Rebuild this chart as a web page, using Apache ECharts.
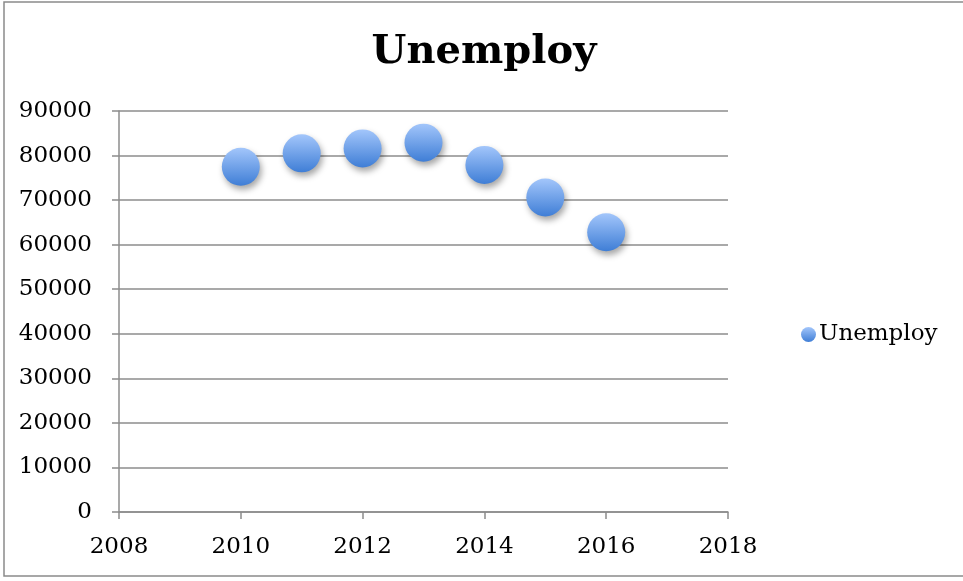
<!DOCTYPE html>
<html>
<head>
<meta charset="utf-8">
<script src="https://cdn.jsdelivr.net/npm/echarts@6/dist/echarts.min.js"></script>
<style>
  html, body { margin: 0; padding: 0; background: #fff; }
  #chart { width: 963px; height: 581px; }
</style>
</head>
<body>
<div id="chart"></div>
<script>
// Unemployment counts by year
const years = [2010, 2011, 2012, 2013, 2014, 2015, 2016];
const unemploy = [77500, 80500, 81600, 82900, 77900, 70600, 62800];
const seriesName = 'Unemploy';

const fontFam = '"DejaVu Serif", "Liberation Serif", serif';
const gridColor = '#8c8c8c';

const bubbleFill = new echarts.graphic.LinearGradient(0, 0, 0, 1, [
  { offset: 0, color: '#a3c6fb' },
  { offset: 1, color: '#3f7ed6' }
]);

const chart = echarts.init(document.getElementById('chart'), null, { renderer: 'canvas' });

chart.setOption({
  animation: false,
  backgroundColor: '#ffffff',
  graphic: [{
    type: 'rect',
    shape: { x: 4, y: 2, width: 975, height: 574 },
    style: { fill: 'none', stroke: '#8a8a8a', lineWidth: 1.5 },
    silent: true
  }],
  title: {
    text: 'Unemploy',
    left: 479,
    textAlign: 'center',
    top: 28,
    textStyle: { fontFamily: fontFam, fontWeight: 'bold', fontSize: 40, color: '#000' }
  },
  legend: {
    left: 796,
    top: 318,
    itemWidth: 15,
    itemHeight: 15,
    itemGap: 6,
    icon: 'circle',
    data: [{ name: seriesName, itemStyle: { color: bubbleFill } }],
    textStyle: { fontFamily: fontFam, fontSize: 23, color: '#000', padding: [0, 0, 0, -2] }
  },
  grid: { left: 119, right: 235, top: 111, bottom: 69 },
  xAxis: {
    type: 'value',
    min: 2008,
    max: 2018,
    interval: 2,
    axisLine: { show: true, lineStyle: { color: gridColor, width: 1.5 } },
    axisTick: { show: true, inside: false, length: 7, lineStyle: { color: gridColor, width: 1.5 } },
    splitLine: { show: false },
    axisLabel: {
      margin: 24, fontFamily: fontFam, fontSize: 23, color: '#000',
      formatter: v => String(v)
    }
  },
  yAxis: {
    type: 'value',
    min: 0,
    max: 90000,
    interval: 10000,
    axisLine: { show: true, lineStyle: { color: gridColor, width: 1.5 } },
    axisTick: { show: true, inside: false, length: 7, lineStyle: { color: gridColor, width: 1.5 } },
    splitLine: { show: true, lineStyle: { color: gridColor, width: 1.5 } },
    axisLabel: {
      margin: 27, fontFamily: fontFam, fontSize: 23, color: '#000',
      formatter: v => String(v)
    }
  },
  series: [{
    name: seriesName,
    type: 'scatter',
    symbol: 'circle',
    symbolSize: 38,
    data: years.map((y, i) => [y, unemploy[i]]),
    itemStyle: {
      color: bubbleFill,
      opacity: 1,
      shadowColor: 'rgba(0,0,0,0.35)',
      shadowBlur: 6,
      shadowOffsetX: 2,
      shadowOffsetY: 4
    }
  }]
});
</script>
</body>
</html>
